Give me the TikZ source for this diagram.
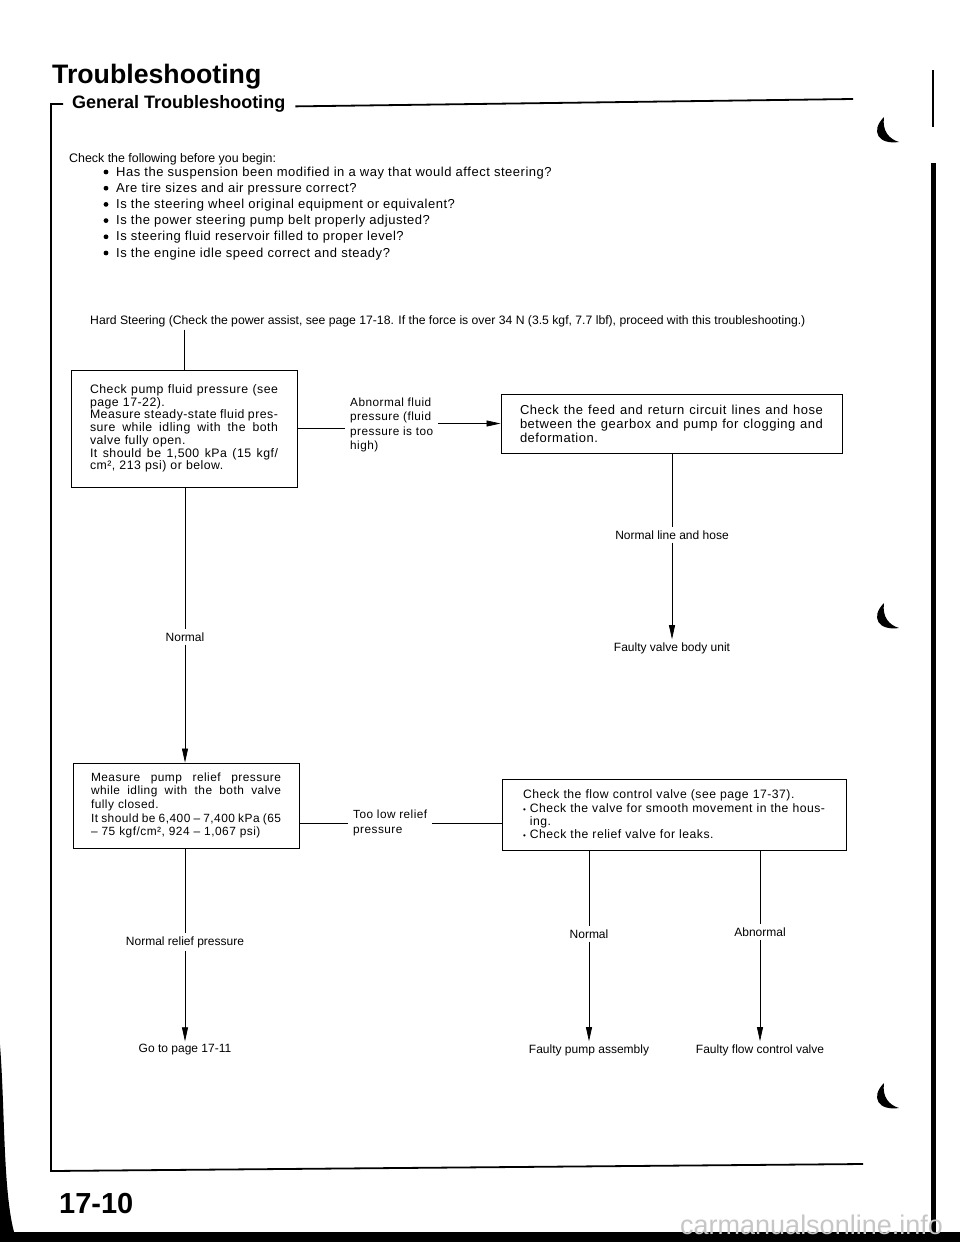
\documentclass[tikz,border=0pt]{standalone}
\usepackage{fontspec}
\setmainfont{Liberation Sans}
\newfontfamily\boxfont[LetterSpace=4]{Liberation Sans}
\usetikzlibrary{arrows.meta}
\newcommand\jl[2]{\leavevmode\hbox to #1{\spaceskip=0.25em plus 1fil\relax\xspaceskip=\spaceskip#2}}
\newcommand\sbul{{\fontsize{8}{8}\selectfont\textbullet}}
\begin{document}
\begin{tikzpicture}[x=1pt,y=-1pt,
  box/.style={draw, line width=0.9pt, align=left, inner ysep=4pt},
  lbl/.style={font=\fontsize{12}{13}\selectfont, inner sep=3pt},
  conn/.style={line width=0.7pt},
  arr/.style={conn, -{Triangle[length=14pt,width=6pt]}},
  frame/.style={line width=1.8pt}]
\useasboundingbox (0,0) rectangle (960,1242);

% header
\node[anchor=base west, inner sep=0, font=\bfseries\fontsize{26.7}{30}\selectfont] (title) at (52,83) {Troubleshooting};
\node[anchor=base west, inner sep=0, font=\bfseries\fontsize{18}{20}\selectfont] (gt) at (72,108) {General Troubleshooting};
\coordinate (tlend) at (853,99);
\draw[frame] ([xshift=10pt,yshift=-3pt]gt.east) -- (tlend);
\coordinate (fr1) at (63,104);
\coordinate (fr2) at (51,104);
\coordinate (fr3) at (51,1171);
\coordinate (fr4) at (863,1164);
\draw[frame] (fr1) -- (fr2) -- (fr3) -- (fr4);

% checklist
\node[anchor=base west, inner sep=0, font=\fontsize{12.4}{13}\selectfont] (chk) at (69,162) {Check the following before you begin:};
\foreach \i/\t in {0/{Has the suspension been modified in a way that would affect steering?},
                   1/{Are tire sizes and air pressure correct?},
                   2/{Is the steering wheel original equipment or equivalent?},
                   3/{Is the power steering pump belt properly adjusted?},
                   4/{Is steering fluid reservoir filled to proper level?},
                   5/{Is the engine idle speed correct and steady?}}{
  \node[anchor=base west, inner sep=0, font=\boxfont\fontsize{13}{14}\selectfont] (q\i) at (116,176+16.2*\i) {\t};
  \fill (106,172+16.2*\i) circle (2.4);
}

% hard steering
\node[anchor=base west, inner sep=3pt, font=\fontsize{12.2}{13}\selectfont] (hs) at (87,324) {Hard Steering (Check the power assist, see page 17-18. If the force is over 34 N (3.5 kgf, 7.7 lbf), proceed with this troubleshooting.)};

% box 1
\node[box, font=\boxfont\fontsize{12.3}{12.7}\selectfont, text width=188pt, inner xsep=19pt, minimum height=117pt] (b1) at (184,428.5) {%
\jl{188pt}{Check pump fluid pressure (see}\\
page 17-22).\\
\jl{188pt}{Measure steady-state fluid pres-}\\
\jl{188pt}{sure while idling with the both}\\
valve fully open.\\
\jl{188pt}{It should be 1,500 kPa (15 kgf/}\\
cm², 213 psi) or below.};

% abnormal fluid label
\node[anchor=west, align=left, inner sep=5pt, font=\boxfont\fontsize{11.8}{14.3}\selectfont] (af) at (345,425) {Abnormal fluid\\pressure (fluid\\pressure is too\\high)};

% box 2
\node[box, font=\boxfont\fontsize{13}{14}\selectfont, text width=303pt, inner xsep=19pt, minimum height=59pt] (b2) at (671.5,423.5) {%
\jl{303pt}{Check the feed and return circuit lines and hose}\\
\jl{303pt}{between the gearbox and pump for clogging and}\\
deformation.};

\node[lbl] (nlh) at (672,535) {Normal line and hose};
\node[lbl] (fvb) at (672,648) {Faulty valve body unit};

\node[lbl] (nl) at (185,637) {Normal};

% box 3
\node[box, font=\boxfont\fontsize{11.9}{13.7}\selectfont, text width=190pt, inner xsep=18pt, minimum height=85pt] (b3) at (186,805.5) {%
\jl{190pt}{Measure pump relief pressure}\\
\jl{190pt}{while idling with the both valve}\\
fully closed.\\
\jl{190pt}{It should be 6,400 – 7,400 kPa (65}\\
– 75 kgf/cm², 924 – 1,067 psi)};

\node[anchor=west, align=left, inner sep=5pt, font=\boxfont\fontsize{11.8}{14.5}\selectfont] (tl) at (348,823) {Too low relief\\pressure};

% box 4
\node[box, font=\boxfont\fontsize{12.2}{13.3}\selectfont, text width=302pt, inner xsep=21pt, minimum height=71pt] (b4) at (674,814.5) {%
Check the flow control valve (see page 17-37).\\
\jl{302pt}{\sbul\ Check the valve for smooth movement in the hous-}\\
\phantom{\sbul\ }ing.\\
\sbul\ Check the relief valve for leaks.};

\node[lbl] (nrp) at (185,942) {Normal relief pressure};
\node[lbl] (go) at (185,1050) {Go to page 17-11};
\node[lbl] (nr) at (589,934) {Normal};
\node[lbl] (ab) at (760,932) {Abnormal};
\node[lbl] (fpa) at (589,1050) {Faulty pump assembly};
\node[lbl] (fcv) at (760,1050) {Faulty flow control valve};

% connectors
\draw[conn] (b1.north |- hs.south) -- (b1.north);
\draw[conn] (b1.east) -- (b1.east -| af.west);
\draw[arr] (af.east |- b2.west) -- (b2.west);
\draw[conn] (b2.south -| nlh.north) -- (nlh.north);
\draw[arr] (nlh.south) -- (fvb.north);
\draw[conn] (b1.south -| nl.north) -- (nl.north);
\draw[arr] (nl.south) -- (nl.south |- b3.north);
\draw[conn] (b3.east |- tl.west) -- (tl.west);
\draw[conn] (tl.east) -- (tl.east -| b4.west);
\draw[conn] (b3.south -| nrp.north) -- (nrp.north);
\draw[arr] (nrp.south) -- (go.north);
\draw[conn] (b4.south -| nr.north) -- (nr.north);
\draw[arr] (nr.south) -- (fpa.north);
\draw[conn] (b4.south -| ab.north) -- (ab.north);
\draw[arr] (ab.south) -- (fcv.north);

% page number
\node[anchor=base west, inner sep=0, font=\bfseries\fontsize{29}{30}\selectfont] (pg) at (59,1213) {17-10};

% scan edges
\fill (931.5,70) rectangle (933.5,127);
\fill (931,163) rectangle (936,1242);
\fill (0,1232) rectangle (960,1242);
\fill (0,1045) .. controls (5,1110) and (3,1190) .. (14,1232) -- (0,1232) -- cycle;
\foreach \cy in {117,603,1083}{
  \fill (884,\cy) .. controls (870,\cy+14) and (878,\cy+28) .. (899,\cy+25)
        .. controls (889,\cy+22) and (882,\cy+14) .. cycle;
}
\node[anchor=base west, inner sep=0, text=gray!45, font=\fontsize{27}{28}\selectfont] (wm) at (680,1234) {carmanualsonline.info};
\end{tikzpicture}
\end{document}
